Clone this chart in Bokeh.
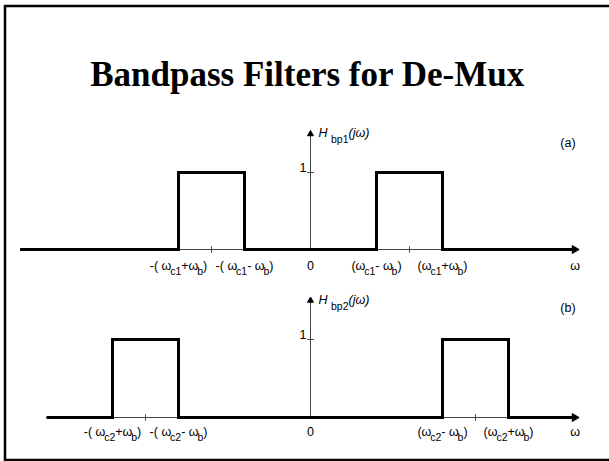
import math

from bokeh.core.properties import value
from bokeh.embed import file_html
from bokeh.models import Range1d
from bokeh.plotting import figure
from bokeh.resources import INLINE

# ---- filter parameters (frequencies normalised so that ωb = 1) ----
omega_b = 1.0
omega_c = [3.0, 5.0]            # ωc1, ωc2
passband_gain = [1.0, 1.0]      # |H| inside each passband
filter_ids = ["1", "2"]
panel_tags = ["(a)", "(b)"]
axis_start = [-8.8, -8.0]       # left end of each frequency axis
axis_end = 8.0                  # right end (arrow) of each frequency axis
y_axis_top = 1.5                # top (arrow) of each magnitude axis

title_text = "Bandpass Filters for De-Mux"

# ---- page layout ----
W, H = 609, 461
PX_PER_W = 33.0                 # screen px per unit of ω
ORIGIN_X = 310.0                # screen x of ω = 0
panel_base = [249.0, 417.0]     # screen y of |H| = 0 for each panel
panel_scale = [77.0, 78.0]      # screen px per unit of |H|
label_drop = [16, 14]           # tick-label baseline below the ω axis (px)
tag_y = [1.38, 1.40]            # height of the (a)/(b) tags in |H| units

FONT = value("Liberation Sans")
MAIN, SUB, SUB_DROP = 12.5, 10.5, 5

# Arial / Liberation Sans advance widths (1/1000 em) for laying out subscripts
ADV = {" ": 278, "(": 333, ")": 333, "-": 333, "+": 584, "ω": 690, "c": 500,
       "1": 556, "2": 556, "b": 556, "p": 556, "j": 222, "H": 722, "0": 556}


def text_w(s, size):
    return sum(ADV.get(ch, 556) for ch in s) * size / 1000.0


def layout(pieces, align="center"):
    widths = [text_w(t, SUB if sub else MAIN) for t, sub in pieces]
    x = -sum(widths) / 2.0 if align == "center" else 0.0
    out = []
    for (t, sub), w in zip(pieces, widths):
        out.append((t, sub, x))
        x += w
    return out


p = figure(width=W, height=H, output_backend="svg", toolbar_location=None,
           x_range=Range1d(0, W), y_range=Range1d(H, 0),
           x_axis_location=None, y_axis_location=None,
           min_border=0, outline_line_color=None,
           background_fill_color="white", border_fill_color="white")
p.grid.visible = False

# frequency range shared by both panels, magnitude range per panel
p.extra_x_ranges = {"w": Range1d(-ORIGIN_X / PX_PER_W, (W - ORIGIN_X) / PX_PER_W)}
for i in range(2):
    b, s = panel_base[i], panel_scale[i]
    p.extra_y_ranges[f"h{i}"] = Range1d((b - H) / s, b / s)

# slide frame and heading
p.line(x=[W + 5, 4.5, 4.5, W + 5], y=[5.5, 5.5, 459.5, 459.5],
       line_color="black", line_width=2.5, line_join="miter")
p.text(x=[307], y=[74], text=[title_text], text_font=value("Liberation Serif"),
       text_font_style="bold", text_font_size="35px", text_align="center",
       text_baseline="alphabetic", text_color="black")

for i in range(2):
    yr = f"h{i}"
    wc, g, k = omega_c[i], passband_gain[i], filter_ids[i]
    lo, hi = wc - omega_b, wc + omega_b
    kw = dict(x_range_name="w", y_range_name=yr)

    # axes
    p.line(x=[axis_start[i], axis_end], y=[0, 0], line_color="#444", line_width=1, **kw)
    p.line(x=[0, 0], y=[0, y_axis_top], line_color="#444", line_width=1, **kw)
    p.scatter(x=[0], y=[y_axis_top], marker="triangle", size=6,
              fill_color="black", line_color="black", **kw)
    p.segment(x0=[-0.1], y0=[g], x1=[0.1], y1=[g], line_color="#444", line_width=1, **kw)
    p.segment(x0=[-wc, wc], y0=[-0.04, -0.04], x1=[-wc, wc], y1=[0.04, 0.04],
              line_color="#444", line_width=1, **kw)

    # magnitude response: passbands centred on ±ωc, width 2ωb
    xs = [axis_start[i], -hi, -hi, -lo, -lo, lo, lo, hi, hi, axis_end]
    ys = [0, 0, g, g, 0, 0, g, g, 0, 0]
    p.line(x=xs, y=ys, line_color="black", line_width=3, line_join="miter", **kw)
    p.scatter(x=[axis_end], y=[0], marker="triangle", angle=-math.pi / 2, size=8,
              fill_color="black", line_color="black", **kw)

    # band-edge labels with subscripts
    edges = [
        (-hi, [("-( ω", 0), ("c" + k, 1), ("+ω", 0), ("b", 1), (")", 0)]),
        (-lo, [("-( ω", 0), ("c" + k, 1), ("- ω", 0), ("b", 1), (")", 0)]),
        (lo, [("(ω", 0), ("c" + k, 1), ("- ω", 0), ("b", 1), (")", 0)]),
        (hi, [("(ω", 0), ("c" + k, 1), ("+ω", 0), ("b", 1), (")", 0)]),
    ]
    main = dict(x=[], text=[], xo=[], yo=[])
    subs = dict(x=[], text=[], xo=[], yo=[])
    for xe, pieces in edges:
        for t, sub, xo in layout(pieces):
            d = subs if sub else main
            d["x"].append(xe)
            d["text"].append(t)
            d["xo"].append(xo)
            d["yo"].append(label_drop[i] + (SUB_DROP if sub else 0))
    # origin and axis name
    main["x"] += [0, axis_end]
    main["text"] += ["0", "ω"]
    main["xo"] += [-text_w("0", MAIN) / 2, -text_w("ω", MAIN) / 2]
    main["yo"] += [label_drop[i], label_drop[i]]

    p.text(x=main["x"], y=[0] * len(main["x"]), text=main["text"],
           x_offset=main["xo"], y_offset=main["yo"], text_font=FONT,
           text_font_size=f"{MAIN}px", text_baseline="alphabetic",
           text_align="left", text_color="black", **kw)
    p.text(x=subs["x"], y=[0] * len(subs["x"]), text=subs["text"],
           x_offset=subs["xo"], y_offset=subs["yo"], text_font=FONT,
           text_font_size=f"{SUB}px", text_baseline="alphabetic",
           text_align="left", text_color="black", **kw)

    # gain label on the magnitude axis
    p.text(x=[0], y=[g], text=["1"], x_offset=[-4], y_offset=[-5], text_font=FONT,
           text_font_size=f"{MAIN}px", text_align="right", text_baseline="alphabetic",
           text_color="black", **kw)

    # axis name H_bpk(jω)
    x0 = 8.0
    hw = text_w("H", MAIN) + text_w(" ", MAIN)
    sw = text_w("bp" + k, SUB)
    p.text(x=[0, 0], y=[y_axis_top, y_axis_top], text=["H", "(jω)"],
           x_offset=[x0, x0 + hw + sw], y_offset=[-1, -1], text_font=FONT,
           text_font_style="italic", text_font_size=f"{MAIN}px",
           text_align="left", text_baseline="alphabetic", text_color="black", **kw)
    p.text(x=[0], y=[y_axis_top], text=["bp" + k], x_offset=[x0 + hw],
           y_offset=[SUB_DROP], text_font=FONT, text_font_size=f"{SUB}px",
           text_align="left", text_baseline="alphabetic", text_color="black", **kw)

    # panel tag
    p.text(x=[7.8], y=[tag_y[i]], text=[panel_tags[i]], text_font=FONT,
           text_font_size=f"{MAIN}px", text_align="center", text_baseline="alphabetic",
           text_color="black", **kw)

open("out.html", "w").write(file_html(p, INLINE))
